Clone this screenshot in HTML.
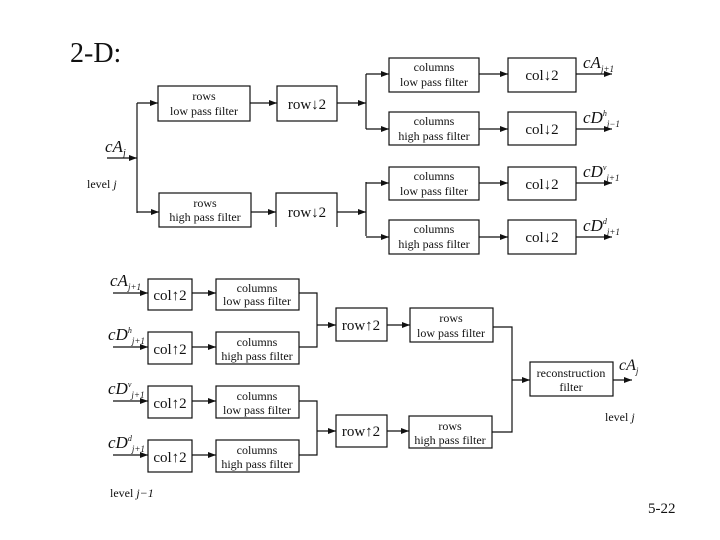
<!DOCTYPE html>
<html><head><meta charset="utf-8"><style>
html,body{margin:0;padding:0;background:#fff;}
svg{display:block;}
text{font-family:"Liberation Serif",serif;fill:#111;}
</style></head><body>
<svg width="720" height="540" viewBox="0 0 720 540" xmlns="http://www.w3.org/2000/svg">
<defs>
<marker id="a" markerWidth="8" markerHeight="6" refX="8" refY="3" orient="auto" markerUnits="userSpaceOnUse">
<path d="M0,0 L8,3 L0,6 z" fill="#111"/></marker>
</defs>
<g stroke="#111" stroke-width="1.2" fill="none">
<!-- top: analysis -->
<line x1="107" y1="158" x2="137" y2="158" marker-end="url(#a)"/>
<polyline points="137,103 137,213"/>
<line x1="137" y1="103" x2="158" y2="103" marker-end="url(#a)"/>
<line x1="137" y1="212" x2="159" y2="212" marker-end="url(#a)"/>
<rect x="158" y="86" width="92" height="35"/>
<rect x="159" y="193" width="92" height="34"/>
<line x1="250" y1="103" x2="277" y2="103" marker-end="url(#a)"/>
<line x1="251" y1="212" x2="276" y2="212" marker-end="url(#a)"/>
<rect x="277" y="86" width="60" height="35"/>
<polyline points="276,227 276,193 337,193 337,227"/>
<line x1="337" y1="103" x2="366" y2="103" marker-end="url(#a)"/>
<line x1="337" y1="212" x2="366" y2="212" marker-end="url(#a)"/>
<line x1="366" y1="74" x2="366" y2="129"/>
<line x1="366" y1="182" x2="366" y2="236"/>
<line x1="366" y1="74" x2="389" y2="74" marker-end="url(#a)"/>
<line x1="366" y1="129" x2="389" y2="129" marker-end="url(#a)"/>
<line x1="366" y1="183" x2="389" y2="183" marker-end="url(#a)"/>
<line x1="366" y1="237" x2="389" y2="237" marker-end="url(#a)"/>
<rect x="389" y="58" width="90" height="34"/>
<rect x="389" y="112" width="90" height="33"/>
<rect x="389" y="167" width="90" height="33"/>
<rect x="389" y="220" width="90" height="34"/>
<line x1="479" y1="74" x2="508" y2="74" marker-end="url(#a)"/>
<line x1="479" y1="129" x2="508" y2="129" marker-end="url(#a)"/>
<line x1="479" y1="183" x2="508" y2="183" marker-end="url(#a)"/>
<line x1="479" y1="237" x2="508" y2="237" marker-end="url(#a)"/>
<rect x="508" y="58" width="68" height="34"/>
<rect x="508" y="112" width="68" height="33"/>
<rect x="508" y="167" width="68" height="33"/>
<rect x="508" y="220" width="68" height="34"/>
<line x1="576" y1="74" x2="612" y2="74" marker-end="url(#a)"/>
<line x1="576" y1="129" x2="612" y2="129" marker-end="url(#a)"/>
<line x1="576" y1="183" x2="612" y2="183" marker-end="url(#a)"/>
<line x1="576" y1="237" x2="612" y2="237" marker-end="url(#a)"/>
<!-- bottom: synthesis -->
<line x1="113" y1="293" x2="148" y2="293" marker-end="url(#a)"/>
<line x1="113" y1="347" x2="148" y2="347" marker-end="url(#a)"/>
<line x1="113" y1="401" x2="148" y2="401" marker-end="url(#a)"/>
<line x1="113" y1="455" x2="148" y2="455" marker-end="url(#a)"/>
<rect x="148" y="279" width="44" height="31"/>
<rect x="148" y="332" width="44" height="32"/>
<rect x="148" y="386" width="44" height="32"/>
<rect x="148" y="440" width="44" height="32"/>
<line x1="192" y1="293" x2="216" y2="293" marker-end="url(#a)"/>
<line x1="192" y1="347" x2="216" y2="347" marker-end="url(#a)"/>
<line x1="192" y1="401" x2="216" y2="401" marker-end="url(#a)"/>
<line x1="192" y1="455" x2="216" y2="455" marker-end="url(#a)"/>
<rect x="216" y="279" width="83" height="31"/>
<rect x="216" y="332" width="83" height="32"/>
<rect x="216" y="386" width="83" height="32"/>
<rect x="216" y="440" width="83" height="32"/>
<polyline points="299,293 317,293 317,347 299,347"/>
<polyline points="299,401 317,401 317,455 299,455"/>
<line x1="317" y1="325" x2="336" y2="325" marker-end="url(#a)"/>
<line x1="317" y1="431" x2="336" y2="431" marker-end="url(#a)"/>
<rect x="336" y="308" width="51" height="33"/>
<rect x="336" y="415" width="51" height="32"/>
<line x1="387" y1="325" x2="410" y2="325" marker-end="url(#a)"/>
<line x1="387" y1="431" x2="409" y2="431" marker-end="url(#a)"/>
<rect x="410" y="308" width="83" height="34"/>
<rect x="409" y="416" width="83" height="32"/>
<polyline points="493,327 512,327 512,432 492,432"/>
<line x1="512" y1="380" x2="530" y2="380" marker-end="url(#a)"/>
<rect x="530" y="362" width="83" height="34"/>
<line x1="613" y1="380" x2="632" y2="380" marker-end="url(#a)"/>
</g>
<text x="70" y="62" font-size="28">2-D:</text>
<g font-size="12" text-anchor="middle">
<text x="204" y="100">rows</text><text x="204" y="115">low pass filter</text>
<text x="205" y="207">rows</text><text x="205" y="221">high pass filter</text>
<text x="434" y="71">columns</text><text x="434" y="86">low pass filter</text>
<text x="434" y="125">columns</text><text x="434" y="140">high pass filter</text>
<text x="434" y="180">columns</text><text x="434" y="195">low pass filter</text>
<text x="434" y="233">columns</text><text x="434" y="248">high pass filter</text>
<text x="257" y="292">columns</text><text x="257" y="305">low pass filter</text>
<text x="257" y="346">columns</text><text x="257" y="360">high pass filter</text>
<text x="257" y="400">columns</text><text x="257" y="414">low pass filter</text>
<text x="257" y="454">columns</text><text x="257" y="468">high pass filter</text>
<text x="451" y="322">rows</text><text x="451" y="337">low pass filter</text>
<text x="450" y="430">rows</text><text x="450" y="444">high pass filter</text>
<text x="571" y="377">reconstruction</text><text x="571" y="391">filter</text>
</g>
<g font-size="15" text-anchor="middle">
<text x="307" y="109">row↓2</text><text x="307" y="217">row↓2</text>
<text x="542" y="80">col↓2</text><text x="542" y="134">col↓2</text>
<text x="542" y="189">col↓2</text><text x="542" y="242">col↓2</text>
<text x="170" y="300">col↑2</text><text x="170" y="354">col↑2</text>
<text x="170" y="408">col↑2</text><text x="170" y="462">col↑2</text>
<text x="361" y="330">row↑2</text><text x="361" y="436">row↑2</text>
</g>
<g font-style="italic">
<text x="105" y="152" font-size="17">cA<tspan font-size="10" dy="4">j</tspan></text>
<text x="583" y="68" font-size="17">cA<tspan font-size="9" dy="4">j+1</tspan></text>
<text x="583" y="123" font-size="17">cD<tspan font-size="8" dy="-7">h</tspan><tspan font-size="9" dy="11">j−1</tspan></text>
<text x="583" y="177" font-size="17">cD<tspan font-size="8" dy="-7">v</tspan><tspan font-size="9" dy="11">j+1</tspan></text>
<text x="583" y="231" font-size="17">cD<tspan font-size="8" dy="-7">d</tspan><tspan font-size="9" dy="11">j+1</tspan></text>
<text x="110" y="286" font-size="17">cA<tspan font-size="9" dy="4">j+1</tspan></text>
<text x="108" y="340" font-size="17">cD<tspan font-size="8" dy="-7">h</tspan><tspan font-size="9" dy="11">j+1</tspan></text>
<text x="108" y="394" font-size="17">cD<tspan font-size="8" dy="-7">v</tspan><tspan font-size="9" dy="11">j+1</tspan></text>
<text x="108" y="448" font-size="17">cD<tspan font-size="8" dy="-7">d</tspan><tspan font-size="9" dy="11">j+1</tspan></text>
<text x="619" y="370" font-size="16">cA<tspan font-size="9" dy="4">j</tspan></text>
</g>
<g font-size="12">
<text x="87" y="188">level <tspan font-style="italic">j</tspan></text>
<text x="605" y="421">level <tspan font-style="italic">j</tspan></text>
<text x="110" y="497">level <tspan font-style="italic">j−1</tspan></text>
</g>
<text x="648" y="513" font-size="15">5-22</text>
</svg>
</body></html>
